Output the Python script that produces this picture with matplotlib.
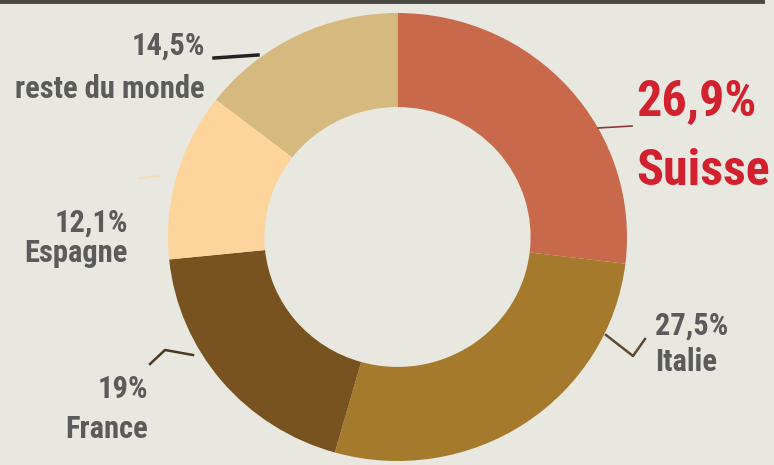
import matplotlib.pyplot as plt
from matplotlib.lines import Line2D

# donnees (parts en %)
pays = ['Suisse', 'Italie', 'France', 'Espagne', 'reste du monde']
parts = [26.9, 27.5, 19.0, 12.1, 14.5]
etiquettes = ['26,9%', '27,5%', '19%', '12,1%', '14,5%']
couleurs = ['#c9694b', '#a67a2c', '#785320', '#fdd49b', '#d5b97e']

fond = '#e9e8e0'
gris = '#5b5b5b'
rouge = '#d3202f'
police = ['Roboto Condensed', 'DejaVu Sans']

W, H = 774, 465
fig = plt.figure(figsize=(W / 100, H / 100), dpi=100)
fig.patch.set_facecolor(fond)

# donut
ax = fig.add_axes([168 / W, (H - 461) / H, 459 / W, 448 / H])
ax.pie(parts, colors=couleurs, startangle=90, counterclock=False,
       radius=1, wedgeprops=dict(width=0.42, linewidth=0))
ax.set_xlim(-1, 1)
ax.set_ylim(-1, 1)
ax.set_aspect('auto')
ax.axis('off')

# calque en pixels pour les textes et traits
ov = fig.add_axes([0, 0, 1, 1], facecolor='none')
ov.set_xlim(0, W)
ov.set_ylim(H, 0)
ov.axis('off')

# bande sombre en haut
ov.add_line(Line2D([0, 762], [1.5, 1.5], color='#4a4a42', lw=3.5))

# traits de rappel
ov.add_line(Line2D([214, 258], [58, 55], color='#222222', lw=2.5))
ov.add_line(Line2D([598, 632], [128, 126], color='#8a3a3a', lw=1.2))
ov.add_line(Line2D([606, 633, 645], [335, 356, 339], color='#5e4a2e', lw=1.8))
ov.add_line(Line2D([150, 165, 193], [364, 350, 355], color='#4a3a22', lw=1.8))
ov.add_line(Line2D([140, 160], [178, 176], color='#f3dcb4', lw=1.5))

kw = dict(family=police, weight='bold', fontstretch='condensed',
          fontsize=22, color=gris, va='baseline')

# reste du monde
ov.text(205, 55, etiquettes[4], ha='right', **kw)
ov.text(205, 98, pays[4], ha='right', **kw)
# Espagne
ov.text(128, 232, etiquettes[3], ha='right', **kw)
ov.text(128, 262, pays[3], ha='right', **kw)
# France
ov.text(148, 398, etiquettes[2], ha='right', **kw)
ov.text(148, 438, pays[2], ha='right', **kw)
# Italie
ov.text(655, 335, etiquettes[1], ha='left', **kw)
ov.text(655, 371, pays[1], ha='left', **kw)
# Suisse
kws = dict(kw, fontsize=36, color=rouge)
ov.text(636, 116, etiquettes[0], ha='left', **kws)
ov.text(636, 185, pays[0], ha='left', **kws)

fig.savefig('out.png', dpi=100, facecolor=fond)
